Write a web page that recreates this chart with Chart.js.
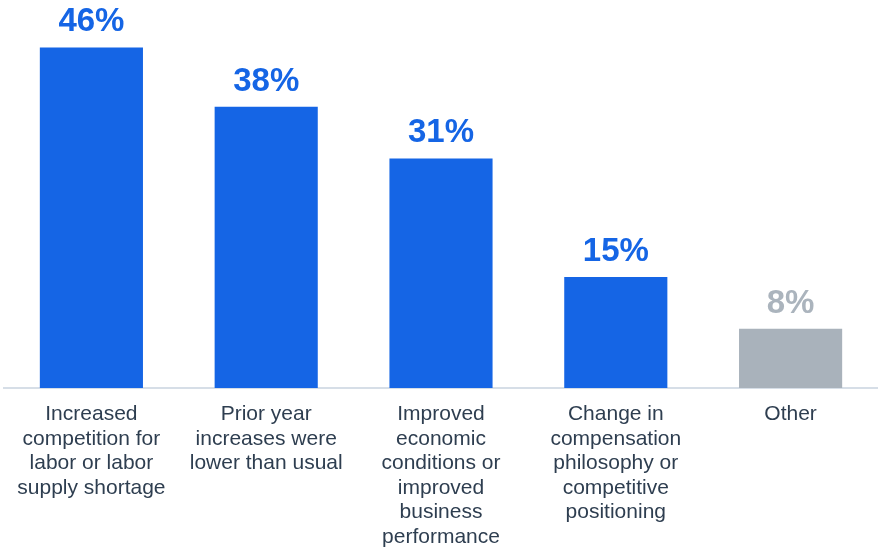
<!DOCTYPE html>
<html>
<head>
<meta charset="utf-8">
<script src="https://cdn.jsdelivr.net/npm/chart.js@4"></script>
<style>
  html, body { margin: 0; padding: 0; background: #fff; }
  #wrap { width: 878px; height: 550px; }
</style>
</head>
<body>
<div id="wrap"><canvas id="reasonChart" width="878" height="550"></canvas></div>
<script>
// --- data ---
const categories = [
    ['Increased', 'competition for', 'labor or labor', 'supply shortage'],
    ['Prior year', 'increases were', 'lower than usual'],
    ['Improved', 'economic', 'conditions or', 'improved', 'business', 'performance'],
    ['Change in', 'compensation', 'philosophy or', 'competitive', 'positioning'],
    ['Other']
];
const values = [46, 38, 31, 15, 8];
const valueLabels = ['46%', '38%', '31%', '15%', '8%'];

const blue = '#1565e5';
const gray = '#a9b2bb';
const barColors = ['blue', 'blue', 'blue', 'blue', 'gray'].map(c => c === 'blue' ? blue : gray);
const labelColors = ['blue', 'blue', 'blue', 'blue', 'gray'].map(c => c === 'blue' ? blue : '#abb4bd');

const fontFamily = '"Liberation Sans", Arial, Helvetica, sans-serif';

// value labels above bars
const topLabels = {
    id: 'topLabels',
    afterDatasetsDraw(chart) {
        const ctx = chart.ctx;
        const meta = chart.getDatasetMeta(0);
        ctx.save();
        ctx.font = 'bold 33px ' + fontFamily;
        ctx.textAlign = 'center';
        ctx.textBaseline = 'alphabetic';
        meta.data.forEach((bar, i) => {
            ctx.fillStyle = labelColors[i];
            ctx.fillText(valueLabels[i], bar.x, bar.y - 16);
        });
        ctx.restore();
    }
};

new Chart(document.getElementById('reasonChart'), {
    type: 'bar',
    data: {
        labels: categories,
        datasets: [{
            data: values,
            backgroundColor: barColors,
            borderWidth: 0,
            barPercentage: 0.59,
            categoryPercentage: 1
        }]
    },
    options: {
        responsive: false,
        animation: false,
        layout: { padding: { left: 4, right: 0, top: 0, bottom: 0 } },
        plugins: {
            legend: { display: false },
            tooltip: { enabled: false }
        },
        scales: {
            y: {
                display: false,
                min: 0,
                max: 52.4
            },
            x: {
                grid: { display: false },
                border: { display: true, color: '#d6dee7', width: 2 },
                ticks: {
                    color: '#2e3e50',
                    padding: 6,
                    maxRotation: 0,
                    autoSkip: false,
                    font: { family: fontFamily, size: 21, lineHeight: 1.17 }
                },
                afterFit(scale) { scale.height = 162; }
            }
        }
    },
    plugins: [topLabels]
});
</script>
</body>
</html>
